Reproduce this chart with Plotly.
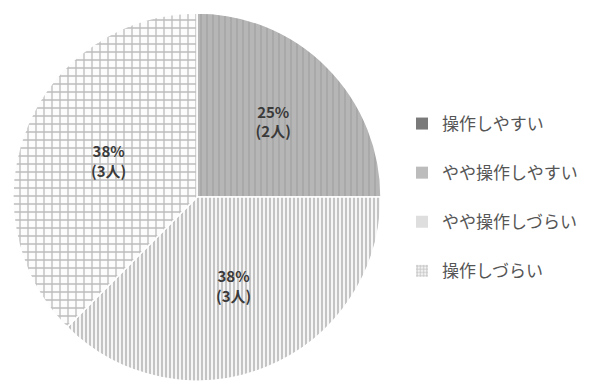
import plotly.graph_objects as go

# Survey: ease of operation (8 respondents)
categories = ["操作しやすい", "やや操作しやすい", "やや操作しづらい", "操作しづらい"]
counts = [0, 2, 3, 3]

# Per-category fill styles
base_colors = ["#7d7d7d", "#b6b6b6", "#f6f6f6", "#fcfcfc"]
legend_colors = ["#7a7a7a", "#bcbcbc", "#dedede", "#f2f2f2"]
pattern_shapes = ["", "|", "|", "+"]
pattern_fg = ["#7d7d7d", "#a8a8a8", "#afafaf", "#bdbdbd"]
pattern_size = [6, 6, 4, 8]
pattern_solidity = [0.2, 0.3, 0.35, 0.3]

total = sum(counts)
pct = [int(c / total * 100 + 0.5) for c in counts]
slice_text = [f"<b>{p}%<br>({c}人)</b>" if c else "" for p, c in zip(pct, counts)]

fig = go.Figure()

fig.add_trace(go.Pie(
    labels=categories,
    values=counts,
    sort=False,
    direction="clockwise",
    rotation=0,
    text=slice_text,
    textinfo="text",
    textposition="inside",
    insidetextorientation="horizontal",
    insidetextfont=dict(family="Noto Sans CJK JP", size=15, color="#3a3a3a"),
    marker=dict(
        colors=base_colors,
        line=dict(color="#ffffff", width=1.5),
        pattern=dict(
            shape=pattern_shapes,
            fgcolor=pattern_fg,
            bgcolor=base_colors,
            size=pattern_size,
            solidity=pattern_solidity,
            fillmode="replace",
        ),
    ),
    showlegend=False,
    hoverinfo="label+value+percent",
    domain=dict(x=[13 / 611, 381 / 611], y=[0, 368 / 381]),
))

# Legend entries, one group each so they can be spaced apart
for i, name in enumerate(categories):
    fig.add_trace(go.Bar(
        x=[None], y=[None], name=name,
        legendgroup=f"g{i}",
        marker=dict(
            color=legend_colors[i],
            line=dict(width=0),
            pattern=dict(
                shape=pattern_shapes[i] if i == 3 else "",
                fgcolor="#c4c4c4",
                bgcolor="#f4f4f4" if i == 3 else legend_colors[i],
                size=4,
                solidity=0.5,
                fillmode="replace",
            ),
        ),
        showlegend=True,
        hoverinfo="skip",
    ))

fig.update_layout(
    width=611,
    height=381,
    margin=dict(l=0, r=0, t=0, b=0),
    paper_bgcolor="#ffffff",
    plot_bgcolor="#ffffff",
    xaxis=dict(visible=False),
    yaxis=dict(visible=False),
    legend=dict(
        x=402 / 611,
        xanchor="left",
        y=1 - 106 / 381,
        yanchor="top",
        traceorder="grouped",
        tracegroupgap=24,
        font=dict(family="Noto Sans CJK JP", size=17, color="#555555"),
        bgcolor="rgba(0,0,0,0)",
    ),
)

fig.write_html("out.html")
